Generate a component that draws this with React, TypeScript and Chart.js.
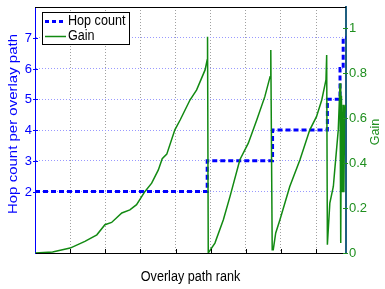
import React, { useEffect, useRef } from "react";
import { Chart, registerables } from "chart.js";

Chart.register(...registerables);

// Hop count step series (x = overlay path rank, arbitrary units)
const hopX = [0, 4.9, 6.76, 8.32, 8.68, 8.77, 8.85];
const hopY = [2, 3, 4, 5, 6, 7, 7];

// Gain series
const gainX = [
  0, 0.5, 1.0, 1.42, 1.76, 1.99, 2.18, 2.47, 2.7, 2.89, 3.13, 3.32, 3.51, 3.62, 3.75, 3.98, 4.13, 4.41, 4.6, 4.84, 4.9, 4.91, 4.93,
  5.12, 5.36, 5.55, 5.83, 6.07, 6.31, 6.54, 6.69, 6.71, 6.75,
  6.78, 6.85, 6.97, 7.25, 7.54, 7.82, 8.01, 8.16, 8.28, 8.3, 8.32,
  8.39, 8.49, 8.53, 8.63, 8.68, 8.7,
  8.72, 8.75, 8.77, 8.79, 8.81, 8.84,
];
const gainY = [
  0, 0.004, 0.022, 0.052, 0.081, 0.126, 0.136, 0.178, 0.192, 0.215, 0.274, 0.311, 0.37, 0.42, 0.44, 0.548, 0.592, 0.681, 0.726, 0.815, 0.86, 0.963, 0.0,
  0.044, 0.148, 0.252, 0.415, 0.489, 0.592, 0.696, 0.785, 0.904, 0.015,
  0.015, 0.089, 0.148, 0.296, 0.415, 0.548, 0.607, 0.681, 0.77, 0.881, 0.037,
  0.222, 0.296, 0.37, 0.548, 0.756, 0.044,
  0.7, 0.27, 0.66, 0.27, 0.62, 0.66,
];

const leftTicks = [2, 3, 4, 5, 6, 7];
const rightTicks = [0, 0.2, 0.4, 0.6, 0.8, 1];
const rightTickLabels = ["0", "0.2", "0.4", "0.6", "0.8", "1"];
const xGridTicks = [1, 2, 3, 4, 5, 6, 7, 8];

const leftTitle = "Hop count per overlay path";
const rightTitle = "Gain";
const xTitle = "Overlay path rank";
const legendLabels = ["Hop count", "Gain"];

const BLUE = "#0000ff";
const GREEN = "#128a12";
const GREEN_TEXT = "#1f8f1f";
const FONT = '"Liberation Sans", Arial, sans-serif';

function text(
  ctx: CanvasRenderingContext2D,
  s: string,
  x: number,
  y: number,
  font: string,
  color: string,
  align: CanvasTextAlign,
  rot = 0,
  squash = 1
) {
  ctx.save();
  ctx.translate(x, y);
  if (rot) {
    ctx.rotate(rot);
    ctx.scale(1, squash);
  } else {
    ctx.scale(squash, 1);
  }
  ctx.font = font;
  ctx.fillStyle = color;
  ctx.textAlign = align;
  ctx.textBaseline = "middle";
  ctx.fillText(s, 0, 0);
  ctx.restore();
}

const decorPlugin = {
  id: "decor",
  afterDraw(chart: any) {
    const ctx: CanvasRenderingContext2D = chart.ctx;
    const ca = chart.chartArea;
    const ys = chart.scales.y;
    const y2 = chart.scales.y2;
    const xs = chart.scales.x;
    ctx.save();
    // top border
    ctx.strokeStyle = "#000";
    ctx.lineWidth = 1;
    ctx.beginPath();
    ctx.moveTo(ca.left, ca.top + 0.5);
    ctx.lineTo(ca.right, ca.top + 0.5);
    ctx.stroke();
    // x tick marks
    ctx.strokeStyle = "#000";
    for (const v of xGridTicks) {
      const px = Math.round(xs.getPixelForValue(v)) + 0.5;
      ctx.beginPath();
      ctx.moveTo(px, ca.bottom);
      ctx.lineTo(px, ca.bottom - 4);
      ctx.stroke();
    }
    // left ticks
    ctx.strokeStyle = BLUE;
    for (const v of leftTicks) {
      const py = Math.round(ys.getPixelForValue(v)) + 0.5;
      ctx.beginPath();
      ctx.moveTo(ca.left - 2, py);
      ctx.lineTo(ca.left + 3, py);
      ctx.stroke();
      text(ctx, String(v), ca.left - 3, py, `13px ${FONT}`, BLUE, "right");
    }
    // right ticks
    ctx.strokeStyle = GREEN_TEXT;
    rightTicks.forEach((v, i) => {
      const py = Math.round(y2.getPixelForValue(v)) + 0.5;
      ctx.beginPath();
      ctx.moveTo(ca.right - 3, py);
      ctx.lineTo(ca.right + 2, py);
      ctx.stroke();
      text(ctx, rightTickLabels[i], ca.right + 3, py, `13px ${FONT}`, GREEN_TEXT, "left");
    });
    // titles
    text(ctx, leftTitle, 13, 124, `15px ${FONT}`, BLUE, "center", -Math.PI / 2, 0.9);
    text(ctx, rightTitle, 376, 132, `12.5px ${FONT}`, GREEN_TEXT, "center", -Math.PI / 2, 0.95);
    text(ctx, xTitle, (ca.left + ca.right) / 2, 277, `14px ${FONT}`, "#000", "center", 0, 0.9);
    // legend
    const lx = 42, ly = 12, lw = 87, lh = 32;
    ctx.fillStyle = "#fff";
    ctx.fillRect(lx, ly, lw, lh);
    ctx.strokeStyle = "#000";
    ctx.lineWidth = 1;
    ctx.strokeRect(lx + 0.5, ly + 0.5, lw, lh);
    ctx.strokeStyle = BLUE;
    ctx.lineWidth = 3;
    ctx.setLineDash([4, 3]);
    ctx.beginPath();
    ctx.moveTo(45, 21.5);
    ctx.lineTo(66, 21.5);
    ctx.stroke();
    ctx.setLineDash([]);
    ctx.strokeStyle = GREEN;
    ctx.lineWidth = 1.5;
    ctx.beginPath();
    ctx.moveTo(45, 36.5);
    ctx.lineTo(66, 36.5);
    ctx.stroke();
    text(ctx, legendLabels[0], 68, 21.5, `14px ${FONT}`, "#000", "left", 0, 0.9);
    text(ctx, legendLabels[1], 68, 36.5, `14px ${FONT}`, "#000", "left", 0, 0.9);
    ctx.restore();
  },
};

export default function App() {
  const ref = useRef<HTMLCanvasElement | null>(null);
  useEffect(() => {
    if (!ref.current) return;
    const chart = new Chart(ref.current, {
      type: "line",
      data: {
        datasets: [
          {
            label: legendLabels[0],
            data: hopX.map((x, i) => ({ x, y: hopY[i] })),
            yAxisID: "y",
            borderColor: BLUE,
            backgroundColor: BLUE,
            borderWidth: 3,
            borderDash: [5, 3],
            stepped: "before",
            pointRadius: 0,
            fill: false,
            order: 1,
          },
          {
            label: legendLabels[1],
            data: gainX.map((x, i) => ({ x, y: gainY[i] })),
            yAxisID: "y2",
            borderColor: GREEN,
            backgroundColor: GREEN,
            borderWidth: 1.5,
            pointRadius: 0,
            tension: 0,
            fill: false,
            order: 0,
          },
        ],
      },
      options: {
        animation: false,
        responsive: false,
        devicePixelRatio: 1,
        layout: { padding: { top: 7, left: 0, right: 0, bottom: 0 } },
        plugins: { legend: { display: false }, tooltip: { enabled: false } },
        scales: {
          x: {
            type: "linear",
            min: 0,
            max: 8.85,
            afterBuildTicks: (s: any) => {
              s.ticks = xGridTicks.map((v) => ({ value: v }));
            },
            afterFit: (s: any) => {
              s.height = 36;
            },
            ticks: { display: false },
            grid: { color: "#a0a0a0", lineWidth: 1, drawTicks: false },
            border: { display: true, color: "#000", width: 1, dash: [1, 2] },
          },
          y: {
            type: "linear",
            position: "left",
            min: 0,
            max: 8,
            afterBuildTicks: (s: any) => {
              s.ticks = leftTicks.map((v) => ({ value: v }));
            },
            afterFit: (s: any) => {
              s.width = 35;
            },
            ticks: { display: false },
            grid: { color: "#9999ff", lineWidth: 1, drawTicks: false },
            border: { display: true, color: BLUE, width: 1, dash: [1, 2] },
          },
          y2: {
            type: "linear",
            position: "right",
            min: 0,
            max: 1.095,
            afterBuildTicks: (s: any) => {
              s.ticks = rightTicks.map((v) => ({ value: v }));
            },
            afterFit: (s: any) => {
              s.width = 39;
            },
            ticks: { display: false },
            grid: { drawOnChartArea: false, drawTicks: false },
            border: { display: true, color: "#1f5f80", width: 2 },
          },
        },
      },
      plugins: [decorPlugin],
    } as any);
    return () => chart.destroy();
  }, []);
  return (
    <div style={{ position: "fixed", left: 0, top: 0, width: 385, height: 289, background: "#fff" }}>
      <canvas ref={ref} width={385} height={289} style={{ display: "block" }} />
    </div>
  );
}
